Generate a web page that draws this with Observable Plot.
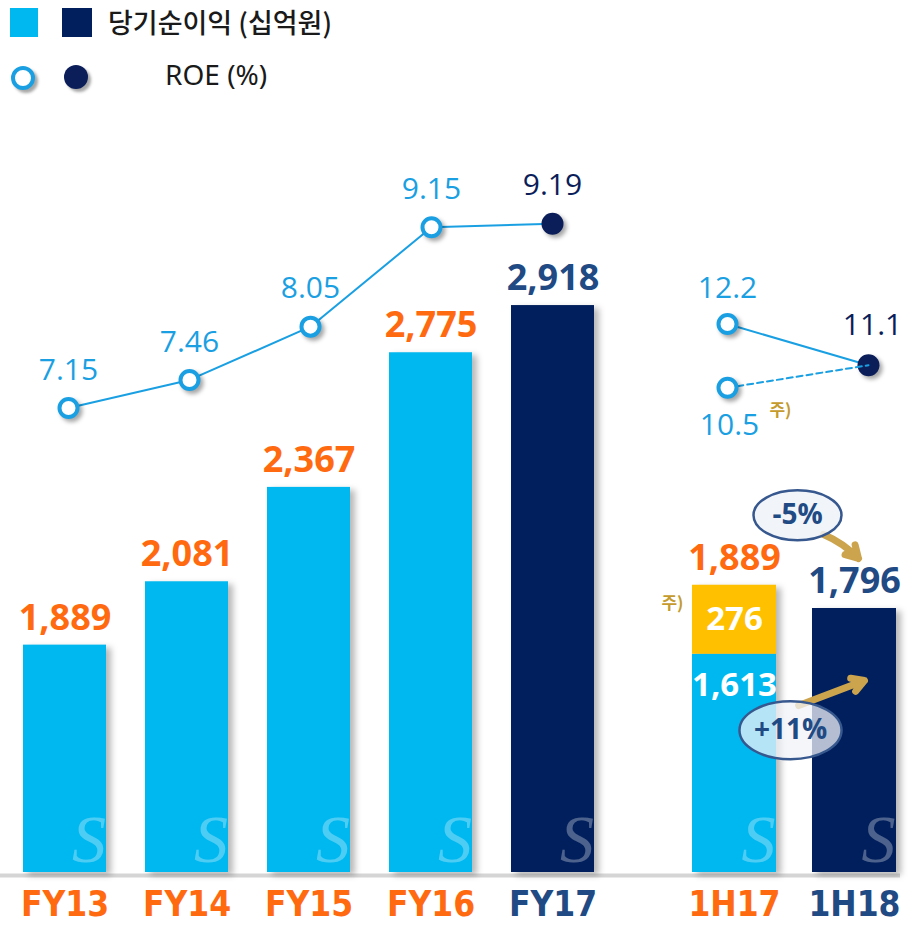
<!DOCTYPE html>
<html><head><meta charset="utf-8">
<script src="https://cdn.jsdelivr.net/npm/d3@7"></script>
<script src="https://cdn.jsdelivr.net/npm/@observablehq/plot@0.6"></script>
<style>
body{margin:0;background:#fff;}
#wrap{position:relative;width:909px;height:925px;overflow:hidden;font-family:"Noto Sans CJK KR","Noto Sans",sans-serif;}
#wrap > svg{position:absolute;left:0;top:0;}
.lg{position:absolute;box-sizing:border-box;}
.lt{position:absolute;white-space:nowrap;color:#1a1a1a;line-height:1;}
</style></head><body>
<div id="wrap">
</div>
<script>
// ---- data ----
const fyCats = ["FY13","FY14","FY15","FY16","FY17"];
const fyIncome = [1889, 2081, 2367, 2775, 2918];
const fyROE = [7.15, 7.46, 8.05, 9.15, 9.19];
const hCats = ["1H17","1H18"];
const hRecurring = [1613, 1796];
const hOneOff = [276, 0];
const hTotal = [1889, 1796];
const hROE = [12.2, 11.1];
const hROEAdj = [10.5, 11.1];
const changeLabels = ["-5%", "+11%"];
const latest = ["FY17","1H18"];
const legendIncome = "당기순이익 (십억원)";
const legendROE = "ROE (%)";
const noteMark = "주)";

// ---- styles ----
const LIGHT="#00B8F0", NAVY="#011F5C", YELLOW="#FFC000", ORANGE="#FF6A10", LBLNAVY="#1F4A84",
      ROEBLUE="#1AA0E2", ROENAVY="#0B1E5A", GOLD="#C49B2C", ARROW="#CDA44E";
const isLatest = c => latest.includes(c);
const fmt = d3.format(",");
const shadow = "drop-shadow(5px 3px 3px rgba(0,0,0,0.28))";
const dotShadow = "drop-shadow(3px 3px 2px rgba(0,0,0,0.35))";
const numFont = "'Open Sans','Noto Sans',sans-serif";
const axisFont = "'DejaVu Sans Condensed','DejaVu Sans',sans-serif";
const cjkFont = "'Noto Sans CJK KR',sans-serif";
const FY_BASE = 1200, H_BASE = 740;
const svgStyle = {background:"transparent", overflow:"visible"};

const fy = fyCats.map((c,i)=>({cat:c, v:fyIncome[i], roe:fyROE[i]}));
const hSegs = [];
hCats.forEach((c,i)=>{
  hSegs.push({cat:c, y1:H_BASE, y2:hRecurring[i], v:hRecurring[i], kind:"base"});
  if (hOneOff[i] > 0) hSegs.push({cat:c, y1:hRecurring[i], y2:hRecurring[i]+hOneOff[i], v:hOneOff[i], kind:"oneoff"});
});
const hTot = hCats.map((c,i)=>({cat:c, v:hTotal[i]}));
const hr = hCats.map((c,i)=>({cat:c, roe:hROE[i]}));
const ha = hCats.map((c,i)=>({cat:c, roe:hROEAdj[i]}));
const changes = [
  {label:changeLabels[0], cat:hCats[0], y:hTotal[0], to:hCats[1], y2:hTotal[1]},
  {label:changeLabels[1], cat:hCats[0], y:hRecurring[0], to:hCats[1], y2:hRecurring[1]}
];

const ellipse = {draw(ctx, size){
  const r = Math.sqrt(size/Math.PI), rx = r*1.76, ry = r, k = 0.5523;
  ctx.moveTo(rx,0);
  ctx.bezierCurveTo(rx, ry*k, rx*k, ry, 0, ry);
  ctx.bezierCurveTo(-rx*k, ry, -rx, ry*k, -rx, 0);
  ctx.bezierCurveTo(-rx, -ry*k, -rx*k, -ry, 0, -ry);
  ctx.bezierCurveTo(rx*k, -ry, rx, -ry*k, rx, 0);
  ctx.closePath();
}};

const watermark = (data, base) => Plot.text(data, {x:"cat", y:base, text:()=>"S", dx:24, dy:-32, fontSize:68,
  fontStyle:"italic", fontFamily:"'Liberation Serif','DejaVu Serif',serif", fill:"white", fillOpacity:0.3});
const xAxis = () => Plot.axisX({label:null, tickSize:0, tickPadding:19, fontSize:35, fontWeight:700, fontFamily:axisFont,
  fill: d => isLatest(d) ? LBLNAVY : ORANGE});

// ---- left bars ----
const leftBars = Plot.plot({
  width:909, height:925, marginLeft:0, marginRight:9, marginTop:278, marginBottom:53,
  x:{type:"band", domain:fyCats, range:[10,606.6], paddingInner:0.32, paddingOuter:0.1, label:null},
  y:{domain:[FY_BASE,3000], axis:null},
  style:svgStyle,
  marks:[
    Plot.ruleY([FY_BASE], {stroke:"#d5d5d5", strokeWidth:4, dy:3}),
    Plot.barY(fy, {x:"cat", y1:FY_BASE, y2:"v", fill:d=>isLatest(d.cat)?NAVY:LIGHT, imageFilter:shadow}),
    watermark(fy, FY_BASE),
    Plot.text(fy, {x:"cat", y:"v", text:d=>fmt(d.v), dy:-27, fontSize:36, fontWeight:700, fontFamily:numFont,
      fill:d=>isLatest(d.cat)?LBLNAVY:ORANGE}),
    xAxis()
  ]
});

// ---- right bars ----
const rightBars = Plot.plot({
  width:909, height:925, marginLeft:0, marginRight:0, marginTop:557, marginBottom:53,
  x:{type:"band", domain:hCats, range:[680,908], paddingInner:0.3, paddingOuter:0.1, label:null},
  y:{domain:[H_BASE,2000], axis:null},
  style:svgStyle,
  marks:[
    Plot.arrow([changes[0]], {x1:"cat", y1:"y", x2:"to", y2:"y2", dx:4, dy:-50, bend:35, insetStart:85,
      stroke:ARROW, strokeWidth:7, headLength:3}),
    Plot.barY(hSegs, {x:"cat", y1:"y1", y2:"y2",
      fill:d=>d.kind==="oneoff"?YELLOW:(isLatest(d.cat)?NAVY:LIGHT), imageFilter:shadow}),
    watermark(hCats.map(c=>({cat:c})), H_BASE),
    Plot.text(hSegs.filter(d=>!isLatest(d.cat)&&d.kind==="base"), {x:"cat", y:"y2", text:d=>fmt(d.v), dy:31,
      fontSize:33, fontWeight:700, fontFamily:numFont, fill:"white"}),
    Plot.text(hSegs.filter(d=>d.kind==="oneoff"), {x:"cat", y:d=>(d.y1+d.y2)/2, text:d=>fmt(d.v),
      fontSize:33, fontWeight:700, fontFamily:numFont, fill:"white"}),
    Plot.text(hSegs.filter(d=>d.kind==="oneoff"), {x:"cat", y:d=>(d.y1+d.y2)/2, text:()=>noteMark, dx:-62, dy:-16,
      fontSize:17, fontWeight:700, fontFamily:cjkFont, fill:GOLD}),
    Plot.text(hTot, {x:"cat", y:"v", text:d=>fmt(d.v), dy:-27, fontSize:36, fontWeight:700, fontFamily:numFont,
      fill:d=>isLatest(d.cat)?LBLNAVY:ORANGE}),
    Plot.arrow([changes[1]], {x1:"cat", y1:"y", x2:"to", y2:"y2", dx:10, dy:72, insetStart:58,
      stroke:ARROW, strokeWidth:7, headLength:3}),
    Plot.dot([changes[0]], {x:"cat", y:"y", dx:63, dy:-70, r:25, symbol:ellipse, fill:"#eef2f7", fillOpacity:0.85,
      stroke:"#36588E", strokeWidth:2.5}),
    Plot.text([changes[0]], {x:"cat", y:"y", dx:63, dy:-70, text:"label", fontSize:28, fontWeight:700,
      fontFamily:numFont, fill:LBLNAVY}),
    Plot.dot([changes[1]], {x:"cat", y:"y", dx:56, dy:76, r:29, symbol:ellipse, fill:"#f0f3f8", fillOpacity:0.75,
      stroke:"#36588E", strokeWidth:2.5}),
    Plot.text([changes[1]], {x:"cat", y:"y", dx:56, dy:76, text:"label", fontSize:28, fontWeight:700,
      fontFamily:numFont, fill:LBLNAVY}),
    xAxis()
  ]
});

// ---- left ROE ----
const leftROE = Plot.plot({
  width:909, height:925, marginLeft:0, marginRight:0, marginTop:150, marginBottom:504,
  x:{type:"point", domain:fyCats, range:[66,553], padding:0, axis:null},
  y:{domain:[7,10], axis:null},
  style:svgStyle,
  marks:[
    Plot.line(fy, {x:"cat", y:"roe", stroke:ROEBLUE, strokeWidth:2}),
    Plot.dot(fy.filter(d=>!isLatest(d.cat)), {x:"cat", y:"roe", r:9, fill:"white", stroke:ROEBLUE, strokeWidth:4, imageFilter:dotShadow}),
    Plot.dot(fy.filter(d=>isLatest(d.cat)), {x:"cat", y:"roe", r:11, fill:ROENAVY, imageFilter:dotShadow}),
    Plot.text(fy, {x:"cat", y:"roe", text:d=>d.roe.toFixed(2), dy:-38, fontSize:30, fontFamily:numFont,
      fill:d=>isLatest(d.cat)?ROENAVY:ROEBLUE})
  ]
});

// ---- right ROE ----
const rightROE = Plot.plot({
  width:909, height:925, marginLeft:0, marginRight:0, marginTop:293.5, marginBottom:519,
  x:{type:"point", domain:hCats, range:[727,868], padding:0, axis:null},
  y:{domain:[10,13], axis:null},
  style:svgStyle,
  marks:[
    Plot.line(hr, {x:"cat", y:"roe", stroke:ROEBLUE, strokeWidth:2}),
    Plot.dot([hr[1]], {x:"cat", y:"roe", r:11, fill:ROENAVY, imageFilter:dotShadow}),
    Plot.line(ha, {x:"cat", y:"roe", stroke:ROEBLUE, strokeWidth:2, strokeDasharray:"6,4"}),
    Plot.dot([hr[0], ha[0]], {x:"cat", y:"roe", r:9, fill:"white", stroke:ROEBLUE, strokeWidth:4, imageFilter:dotShadow}),
    Plot.text([hr[0]], {x:"cat", y:"roe", text:d=>d.roe.toFixed(1), dy:-36, fontSize:30, fontFamily:numFont, fill:ROEBLUE}),
    Plot.text([hr[1]], {x:"cat", y:"roe", text:d=>d.roe.toFixed(1), dx:4, dy:-40, fontSize:30, fontFamily:numFont, fill:ROENAVY}),
    Plot.text([ha[0]], {x:"cat", y:"roe", text:d=>d.roe.toFixed(1), dx:2, dy:38, fontSize:30, fontFamily:numFont, fill:ROEBLUE}),
    Plot.text([ha[0]], {x:"cat", y:"roe", text:()=>noteMark, dx:53, dy:23, fontSize:17, fontWeight:700, fontFamily:cjkFont, fill:GOLD})
  ]
});

const wrap = document.getElementById("wrap");
[leftBars, rightBars, leftROE, rightROE].forEach(s => wrap.appendChild(s));

// ---- legend ----
const lg = document.createElement("div");
lg.innerHTML = `
<div class="lg" style="left:10px;top:8px;width:28px;height:29px;background:${LIGHT}"></div>
<div class="lg" style="left:62px;top:8px;width:30px;height:29px;background:${NAVY}"></div>
<div class="lt" style="left:108px;top:8px;font-size:27px;font-weight:500;">${legendIncome}</div>
<div class="lg" style="left:11px;top:66px;width:24px;height:24px;border:4px solid ${ROEBLUE};border-radius:50%;background:#fff;box-shadow:3px 3px 3px rgba(0,0,0,0.35)"></div>
<div class="lg" style="left:64px;top:65px;width:24px;height:24px;border-radius:50%;background:${ROENAVY};box-shadow:3px 3px 3px rgba(0,0,0,0.35)"></div>
<div class="lt" style="left:165px;top:60px;font-size:28px;font-family:'Noto Sans',sans-serif;">${legendROE}</div>`;
wrap.appendChild(lg);
</script>
</body></html>
